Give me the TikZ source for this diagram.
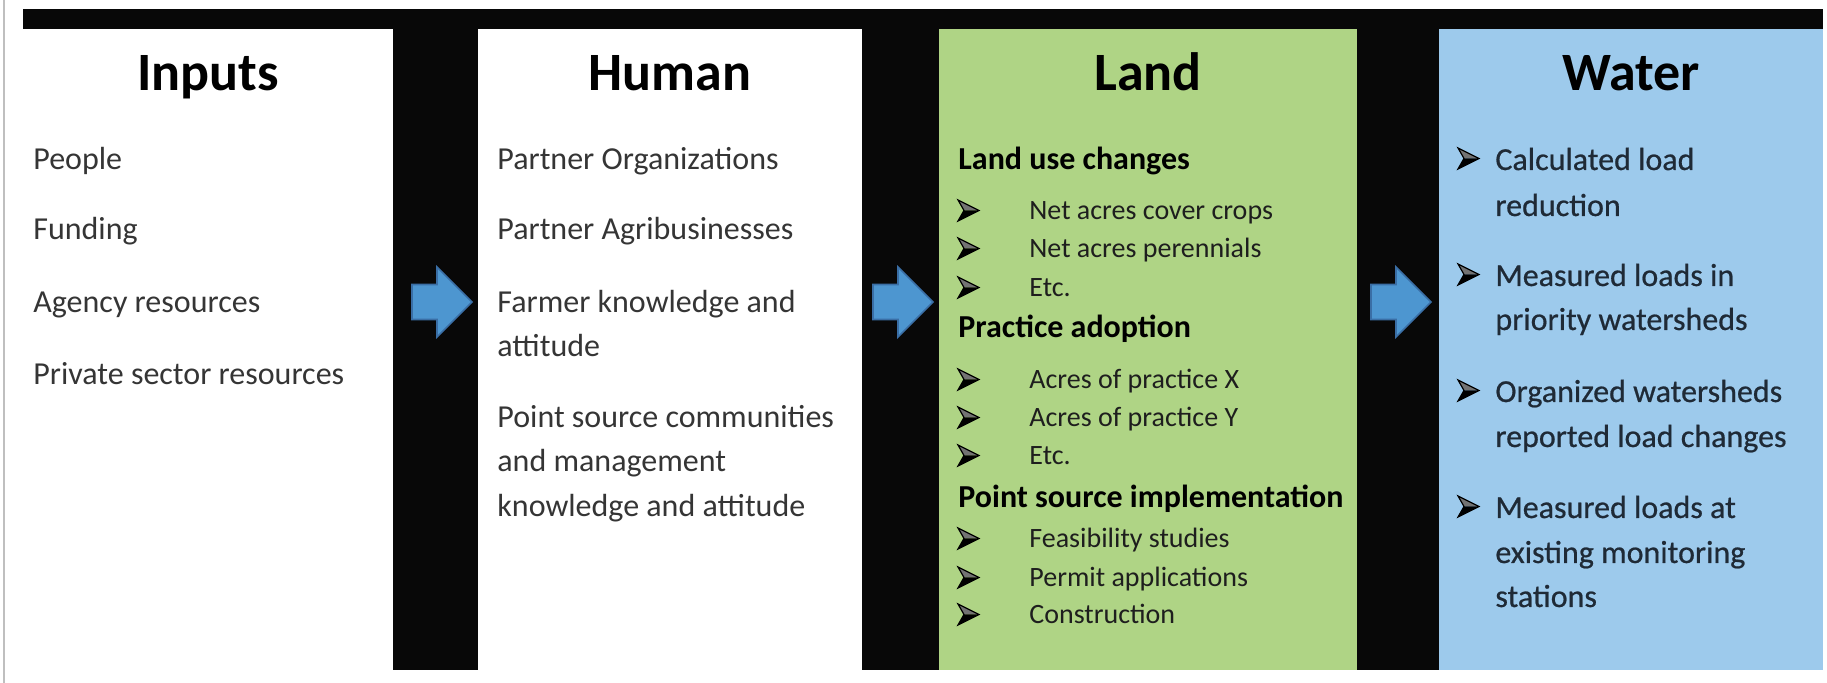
\documentclass[tikz,border=0pt]{standalone}
\usepackage{fontspec}
\setmainfont{Carlito}
\newfontfamily\waterfont[FakeBold=0.6]{Carlito}
\definecolor{landgreen}{HTML}{AFD485}
\definecolor{waterblue}{HTML}{9DCAEC}
\definecolor{bodygray}{HTML}{353535}
\definecolor{landtext}{HTML}{1E1E1E}
\definecolor{watertext}{HTML}{1F2A36}
\definecolor{arrowfill}{HTML}{4D96D0}
\definecolor{arrowedge}{HTML}{3A6EA5}
\begin{document}
\begin{tikzpicture}[x=0.5pt,y=-0.5pt,
  coltitle/.style={anchor=base, inner sep=0, font=\fontsize{27}{30}\selectfont\bfseries, text=black},
  bodytxt/.style={anchor=base west, inner sep=0, font=\fontsize{16}{18}\selectfont, text=bodygray},
  landtxt/.style={anchor=base west, inner sep=0, font=\fontsize{14}{16}\selectfont, text=landtext},
  landhead/.style={anchor=base west, inner sep=0, font=\fontsize{16}{18}\selectfont\bfseries, text=black},
  watertxt/.style={anchor=base west, inner sep=0, font=\fontsize{16}{18}\selectfont\waterfont, text=watertext},
  blockarrow/.style={fill=arrowfill, draw=arrowedge, line width=0.8pt, line join=miter},
  arrowbullet/.pic={
    \fill[black!55] (0,-21) -- (21,-10.5) -- (6,-10.5) -- cycle;
    \fill[black] (6,-10.5) -- (21,-10.5) -- (0,0) -- cycle;
    \draw[black, line width=0.6pt, line join=miter] (0,-21) -- (21,-10.5) -- (0,0) -- (6,-10.5) -- cycle;
  }]
\useasboundingbox (0,0) rectangle (1827,683);
\fill[white] (0,0) rectangle (1827,683);
\draw[black!25, line width=1pt] (4,0) -- (4,683);
% black frame parts
\fill[black!97] (23,9) rectangle (1823,29);
\fill[black!97] (393,9) rectangle (478,670);
\fill[black!97] (862,9) rectangle (939,670);
\fill[black!97] (1357,9) rectangle (1439,670);
% coloured columns
\fill[landgreen] (939,29) rectangle (1357,670);
\fill[waterblue] (1439,29) rectangle (1823,670);
% block arrows
\foreach \ax in {412,873,1371}{
  \draw[blockarrow] (\ax,284.5) -- ++(25,0) -- ++(0,-17.5) -- ++(35,35) -- ++(-35,35) -- ++(0,-17.5) -- ++(-25,0) -- cycle;
}
% titles
\node[coltitle] (tin) at (208,91) {Inputs};
\node[coltitle] (thu) at (670,91) {Human};
\node[coltitle] (tla) at (1148,91) {Land};
\node[coltitle] (twa) at (1631,91) {Water};
% inputs
\node[bodytxt] (i1) at (33,170) {People};
\node[bodytxt] (i2) at (33,240) {Funding};
\node[bodytxt] (i3) at (33,313) {Agency resources};
\node[bodytxt] (i4) at (33,385) {Private sector resources};
% human
\node[bodytxt] (h1) at (497,170) {Partner Organizations};
\node[bodytxt] (h2) at (497,240) {Partner Agribusinesses};
\node[bodytxt] (h3) at (497,313) {Farmer knowledge and};
\node[bodytxt] (h3b) at (497,357) {attitude};
\node[bodytxt] (h4) at (497,428) {Point source communities};
\node[bodytxt] (h4b) at (497,472) {and management};
\node[bodytxt] (h4c) at (497,517) {knowledge and attitude};
% land
\node[landhead] (l1) at (958,170) {Land use changes};
\pic at (958,221) {arrowbullet};
\node[landtxt] (l1a) at (1029,220) {Net acres cover crops};
\pic at (958,259) {arrowbullet};
\node[landtxt] (l1b) at (1029,258) {Net acres perennials};
\pic at (958,298) {arrowbullet};
\node[landtxt] (l1c) at (1029,297) {Etc.};
\node[landhead] (l2) at (958,338) {Practice adoption};
\pic at (958,390) {arrowbullet};
\node[landtxt] (l2a) at (1029,389) {Acres of practice X};
\pic at (958,428) {arrowbullet};
\node[landtxt] (l2b) at (1029,427) {Acres of practice Y};
\pic at (958,466) {arrowbullet};
\node[landtxt] (l2c) at (1029,465) {Etc.};
\node[landhead] (l3) at (958,508) {Point source implementation};
\pic at (958,549) {arrowbullet};
\node[landtxt] (l3a) at (1029,548) {Feasibility studies};
\pic at (958,588) {arrowbullet};
\node[landtxt] (l3b) at (1029,587) {Permit applications};
\pic at (958,625) {arrowbullet};
\node[landtxt] (l3c) at (1029,624) {Construction};
% water
\pic at (1458,169) {arrowbullet};
\node[watertxt] (w1) at (1495,170) {Calculated load};
\node[watertxt] (w1b) at (1495,216) {reduction};
\pic at (1458,285) {arrowbullet};
\node[watertxt] (w2) at (1495,286) {Measured loads in};
\node[watertxt] (w2b) at (1495,330) {priority watersheds};
\pic at (1458,401) {arrowbullet};
\node[watertxt] (w3) at (1495,402) {Organized watersheds};
\node[watertxt] (w3b) at (1495,447) {reported load changes};
\pic at (1458,517) {arrowbullet};
\node[watertxt] (w4) at (1495,518) {Measured loads at};
\node[watertxt] (w4b) at (1495,563) {existing monitoring};
\node[watertxt] (w4c) at (1495,607) {stations};
\end{tikzpicture}
\end{document}
